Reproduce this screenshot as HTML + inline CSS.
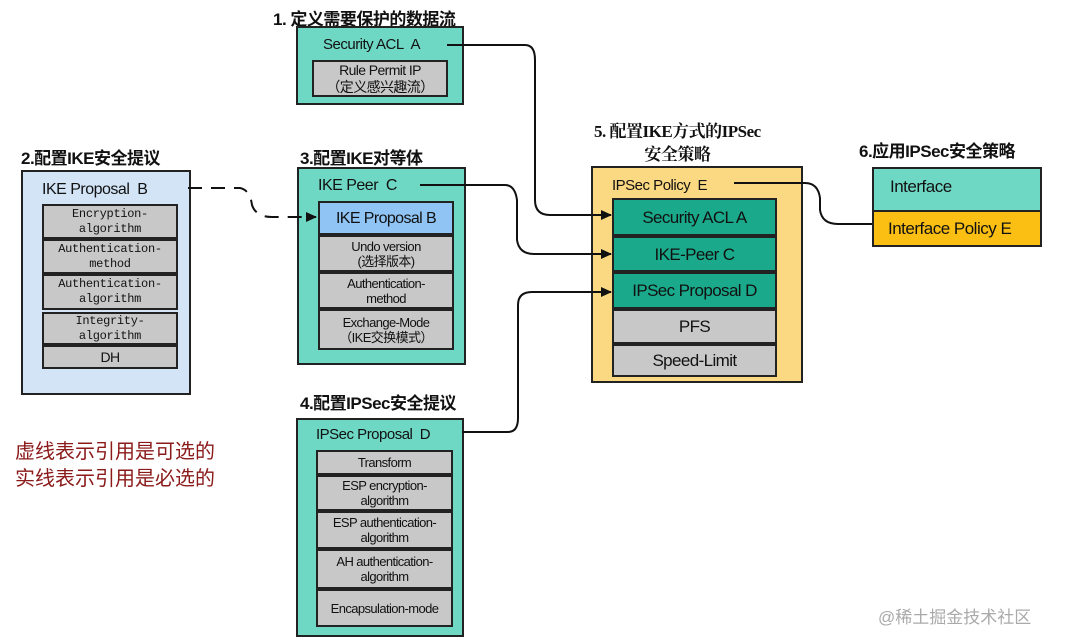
<!DOCTYPE html>
<html><head><meta charset="utf-8"><style>
body{margin:0;width:1068px;height:644px;background:#fff;position:relative;overflow:hidden;font-family:"Liberation Sans","Noto Sans CJK SC",sans-serif;}
.b{position:absolute;box-sizing:border-box;border:2px solid #222;}
.r{position:absolute;box-sizing:border-box;border:2px solid #222;background:#c8c8c8;text-align:center;font-size:13px;line-height:15px;color:#111;display:flex;align-items:center;justify-content:center;letter-spacing:-0.6px}
.t{position:absolute;font-size:15px;color:#111;white-space:nowrap;letter-spacing:-0.5px}
.h{position:absolute;font-size:17px;font-weight:bold;color:#111;white-space:nowrap;letter-spacing:-0.5px}
.m{font-family:"Liberation Mono","Noto Sans CJK SC",monospace;font-size:12px;letter-spacing:-0.3px}
.g{background:#1aa98a;font-size:17px;color:#111}
</style></head><body>
<div class="h" style="left:273px;top:5px">1. 定义需要保护的数据流</div>
<div class="b" style="left:296px;top:26px;width:168px;height:79px;background:#6fd8c4"></div>
<div class="t" style="left:323px;top:36px;font-size:15px">Security ACL &nbsp;A</div>
<div class="r" style="left:312px;top:60px;width:136px;height:37px;font-size:14px;line-height:17px">Rule Permit IP<br>（定义感兴趣流）</div>

<div class="h" style="left:21px;top:144px">2.配置IKE安全提议</div>
<div class="b" style="left:21px;top:170px;width:170px;height:225px;background:#d2e4f6"></div>
<div class="t" style="left:42px;top:181px;font-size:16px">IKE Proposal &nbsp;B</div>
<div class="r m" style="left:42px;top:204px;width:136px;height:35px">Encryption-<br>algorithm</div>
<div class="r m" style="left:42px;top:239px;width:136px;height:35px">Authentication-<br>method</div>
<div class="r m" style="left:42px;top:274px;width:136px;height:36px">Authentication-<br>algorithm</div>
<div class="r m" style="left:42px;top:312px;width:136px;height:33px">Integrity-<br>algorithm</div>
<div class="r" style="left:42px;top:345px;width:136px;height:24px;font-size:14px">DH</div>

<div class="h" style="left:300px;top:144px">3.配置IKE对等体</div>
<div class="b" style="left:297px;top:167px;width:169px;height:198px;background:#6fd8c4"></div>
<div class="t" style="left:318px;top:177px;font-size:16px">IKE Peer &nbsp;C</div>
<div class="r" style="left:318px;top:201px;width:136px;height:34px;background:#8fc4f4;font-size:16px">IKE Proposal B</div>
<div class="r" style="left:318px;top:235px;width:136px;height:37px">Undo version<br>(选择版本)</div>
<div class="r" style="left:318px;top:272px;width:136px;height:37px">Authentication-<br>method</div>
<div class="r" style="left:318px;top:309px;width:136px;height:41px">Exchange-Mode<br>（IKE交换模式）</div>

<div class="h" style="left:300px;top:389px">4.配置IPSec安全提议</div>
<div class="b" style="left:296px;top:418px;width:168px;height:219px;background:#6fd8c4"></div>
<div class="t" style="left:316px;top:426px;font-size:15px">IPSec Proposal &nbsp;D</div>
<div class="r" style="left:316px;top:450px;width:137px;height:25px">Transform</div>
<div class="r" style="left:316px;top:475px;width:137px;height:36px">ESP encryption-<br>algorithm</div>
<div class="r" style="left:316px;top:511px;width:137px;height:38px">ESP authentication-<br>algorithm</div>
<div class="r" style="left:316px;top:549px;width:137px;height:40px">AH authentication-<br>algorithm</div>
<div class="r" style="left:316px;top:589px;width:137px;height:38px">Encapsulation-mode</div>

<div class="h" style="left:594px;top:120px;font-size:17px;font-family:'Liberation Serif','Noto Serif CJK SC',serif;line-height:23px;text-align:center">5. 配置IKE方式的IPSec<br>安全策略</div>
<div class="b" style="left:591px;top:166px;width:212px;height:217px;background:#fbd982"></div>
<div class="t" style="left:612px;top:177px;font-size:15px">IPSec Policy &nbsp;E</div>
<div class="r g" style="left:612px;top:198px;width:165px;height:38px">Security ACL A</div>
<div class="r g" style="left:612px;top:236px;width:165px;height:36px">IKE-Peer C</div>
<div class="r g" style="left:612px;top:272px;width:165px;height:37px">IPSec Proposal D</div>
<div class="r" style="left:612px;top:309px;width:165px;height:35px;font-size:17px">PFS</div>
<div class="r" style="left:612px;top:344px;width:165px;height:33px;font-size:17px">Speed-Limit</div>

<div class="h" style="left:859px;top:137px">6.应用IPSec安全策略</div>
<div class="b" style="left:872px;top:167px;width:170px;height:80px;background:#6fd8c4"></div>
<div class="b" style="left:872px;top:210px;width:170px;height:37px;background:#fbbf14"></div>
<div class="t" style="left:890px;top:177px;font-size:17px">Interface</div>
<div class="t" style="left:888px;top:219px;font-size:17px">Interface Policy E</div>

<div style="position:absolute;left:15px;top:439px;font-size:20px;line-height:27px;color:#8b1a1a">虚线表示引用是可选的<br>实线表示引用是必选的</div>
<div style="position:absolute;left:878px;top:603px;font-size:17px;color:#aaa">@稀土掘金技术社区</div>

<svg width="1068" height="644" style="position:absolute;left:0;top:0">
<defs><marker id="a" markerWidth="11" markerHeight="10" refX="10" refY="5" orient="auto" markerUnits="userSpaceOnUse"><path d="M0,0L11,5L0,10z" fill="#111"/></marker></defs>
<g fill="none" stroke="#111" stroke-width="2">
<path d="M447,45 H525 Q535,45 535,60 V200 Q535,215 550,215 H611" marker-end="url(#a)"/>
<path d="M420,185 H505 Q515,185 517,200 V240 Q519,254 534,254 H611" marker-end="url(#a)"/>
<path d="M462,432 H508 Q518,432 518,418 V305 Q518,292 532,292 H611" marker-end="url(#a)"/>
<path d="M734,183 H805 Q818,183 820,198 V210 Q822,224 838,224 H872"/>
<path d="M188,188 H240 Q250,190 252,205 Q256,217 272,217 H316" stroke-dasharray="14,9" marker-end="url(#a)"/>
</g></svg>
</body></html>
